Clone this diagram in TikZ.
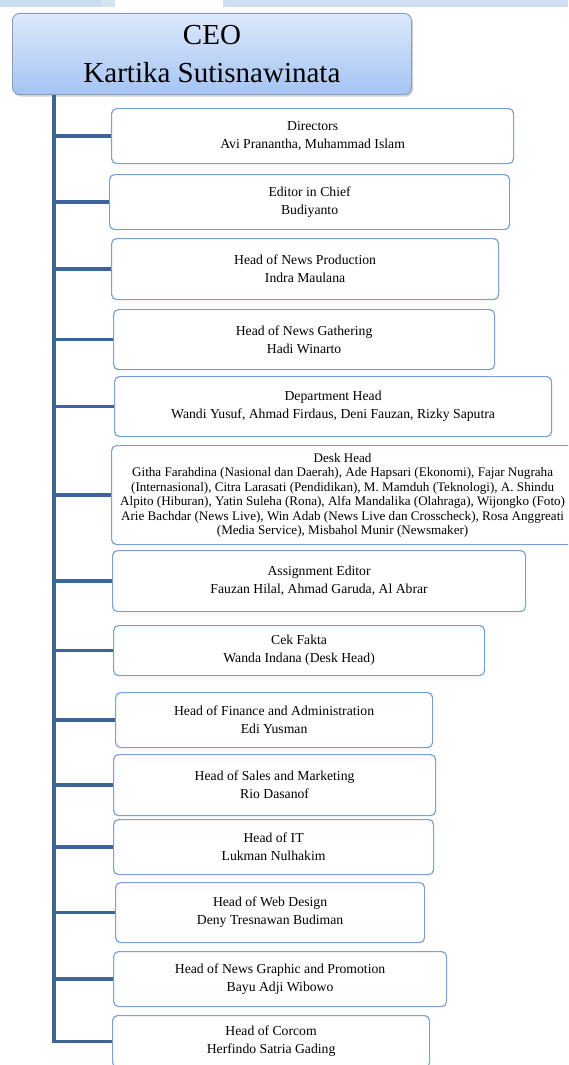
\documentclass[tikz,border=0pt]{standalone}
\usepackage{fontspec}
\setmainfont{Liberation Serif}
\usepackage{tikz}

\begin{document}
\begin{tikzpicture}[x=1pt,y=1pt,yscale=-1,xscale=1,
    unitbox/.style={draw={rgb, 255:red, 122; green, 160; blue, 212}, line width=1.2pt, rounded corners=5pt, fill=white, anchor=north west, inner sep=0pt, align=center, font=\fontsize{13.7}{18}\selectfont},
    branch/.style={draw={rgb, 255:red, 61; green, 99; blue, 153}, line width=3.6pt},
    ]
        \useasboundingbox (0,0) rectangle (568,1065);
        \clip (0,0) rectangle (568,1065);

        %Shape: Rectangle [id:strip]
        \fill [color={rgb, 255:red, 203; green, 220; blue, 238}] (0,0) rectangle (101,7.5);
        \fill [color={rgb, 255:red, 214; green, 227; blue, 241}] (101,0) rectangle (115,7.5);
        \fill [color={rgb, 255:red, 207; green, 223; blue, 240}] (223,0) rectangle (568,7.5);

        %Shape: Rounded Rect [id:ceo shadow]
        \fill [color=black, opacity=0.18, rounded corners=7pt] (13.5,15.5) rectangle (413,96.5);
        % Text Node
        \node (ceo) [anchor=north west, minimum width=399pt, minimum height=81pt, inner sep=0pt, rounded corners=7pt,
            draw={rgb, 255:red, 140; green, 155; blue, 178}, line width=0.9pt,
            top color={rgb, 255:red, 220; green, 232; blue, 251}, bottom color={rgb, 255:red, 165; green, 196; blue, 243},
            align=center, font=\fontsize{29}{38}\selectfont] at (12,13) {CEO\\Kartika Sutisnawinata};

        % Text Node
        \node (dir) [unitbox, minimum width=402pt, minimum height=55pt] at (111,108) {Directors\\Avi Pranantha, Muhammad Islam};
        % Text Node
        \node (eic) [unitbox, minimum width=400pt, minimum height=55pt] at (109,174) {Editor in Chief\\Budiyanto};
        % Text Node
        \node (prod) [unitbox, minimum width=387pt, minimum height=61pt] at (111,238) {Head of News Production\\Indra Maulana};
        % Text Node
        \node (gath) [unitbox, minimum width=381pt, minimum height=60pt] at (113,309) {Head of News Gathering\\Hadi Winarto};
        % Text Node
        \node (dept) [unitbox, minimum width=437pt, minimum height=60pt] at (114,376) {Department Head\\Wandi Yusuf, Ahmad Firdaus, Deni Fauzan, Rizky Saputra};
        % Text Node
        \node (desk) [unitbox, minimum width=462pt, minimum height=99pt, font=\fontsize{13.1}{14.5}\selectfont] at (111,445) {Desk Head\\Githa Farahdina (Nasional dan Daerah), Ade Hapsari (Ekonomi), Fajar Nugraha\\(Internasional), Citra Larasati (Pendidikan), M. Mamduh (Teknologi), A. Shindu\\Alpito (Hiburan), Yatin Suleha (Rona), Alfa Mandalika (Olahraga), Wijongko (Foto)\\Arie Bachdar (News Live), Win Adab (News Live dan Crosscheck), Rosa Anggreati\\(Media Service), Misbahol Munir (Newsmaker)};
        % Text Node
        \node (assign) [unitbox, minimum width=413pt, minimum height=61pt] at (112,550) {Assignment Editor\\Fauzan Hilal, Ahmad Garuda, Al Abrar};
        % Text Node
        \node (cek) [unitbox, minimum width=371pt, minimum height=50pt] at (113,625) {Cek Fakta\\Wanda Indana (Desk Head)};
        % Text Node
        \node (fin) [unitbox, minimum width=317pt, minimum height=55pt] at (115,692) {Head of Finance and Administration\\Edi Yusman};
        % Text Node
        \node (sales) [unitbox, minimum width=322pt, minimum height=61pt] at (113,754) {Head of Sales and Marketing\\Rio Dasanof};
        % Text Node
        \node (it) [unitbox, minimum width=320pt, minimum height=55pt] at (113,819) {Head of IT\\Lukman Nulhakim};
        % Text Node
        \node (web) [unitbox, minimum width=309pt, minimum height=60pt] at (115,882) {Head of Web Design\\Deny Tresnawan Budiman};
        % Text Node
        \node (graph) [unitbox, minimum width=333pt, minimum height=55pt] at (113,951) {Head of News Graphic and Promotion\\Bayu Adji Wibowo};
        % Text Node
        \node (corcom) [unitbox, minimum width=317pt, minimum height=52pt] at (112,1015) {Head of Corcom\\Herfindo Satria Gading};

        %Straight Lines [id:trunk]
        \coordinate (trunk) at (54,94.5);
        \draw [branch] (trunk) -- (trunk |- corcom.west) -- (corcom.west) ;
        %Straight Lines [id:branches]
        \draw [branch] (trunk |- dir.west) -- (dir.west) ;
        \draw [branch] (trunk |- eic.west) -- (eic.west) ;
        \draw [branch] (trunk |- prod.west) -- (prod.west) ;
        \draw [branch] (trunk |- gath.west) -- (gath.west) ;
        \draw [branch] (trunk |- dept.west) -- (dept.west) ;
        \draw [branch] (trunk |- desk.west) -- (desk.west) ;
        \draw [branch] (trunk |- assign.west) -- (assign.west) ;
        \draw [branch] (trunk |- cek.west) -- (cek.west) ;
        \draw [branch] (trunk |- fin.west) -- (fin.west) ;
        \draw [branch] (trunk |- sales.west) -- (sales.west) ;
        \draw [branch] (trunk |- it.west) -- (it.west) ;
        \draw [branch] (trunk |- web.west) -- (web.west) ;
        \draw [branch] (trunk |- graph.west) -- (graph.west) ;

\end{tikzpicture}
\end{document}
